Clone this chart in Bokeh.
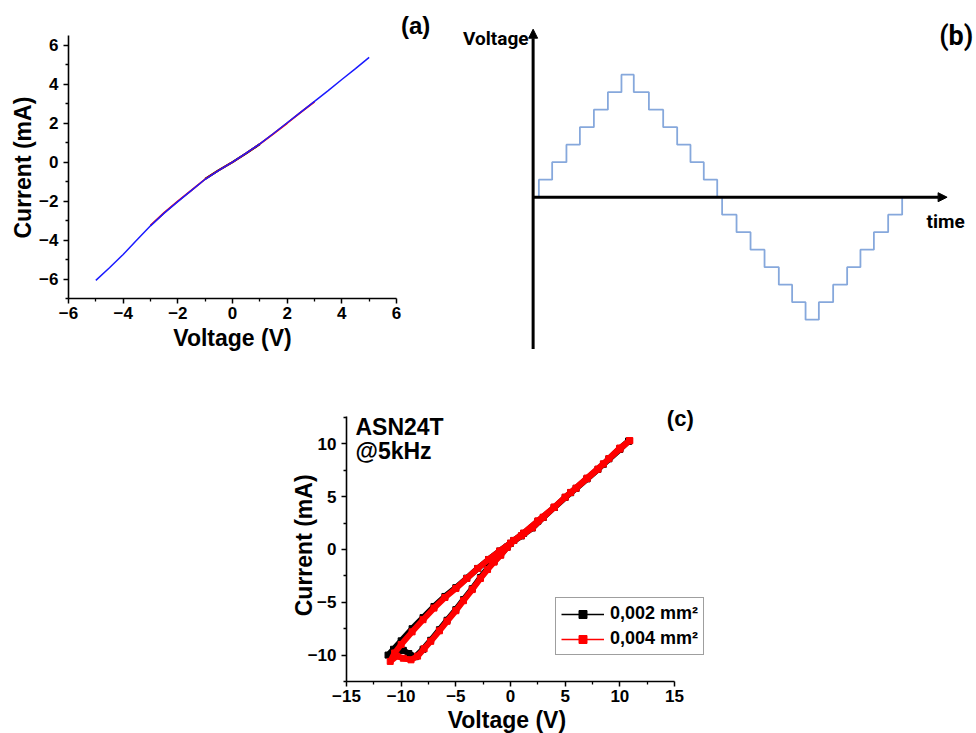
import math
import numpy as np
from bokeh.plotting import figure
from bokeh.layouts import column, row
from bokeh.models import (Range1d, Label, Arrow, NormalHead, Legend, LegendItem,
                          FixedTicker, LinearAxis)
from bokeh.embed import file_html
from bokeh.resources import INLINE

FONT = "Liberation Sans"
SCHEME_FONT = "Roboto"

# ---------------- data: panel (a) ----------------
a_blue_v = [-5.0, -4.5, -4.0, -3.5, -3.0, -2.5, -2.0, -1.5, -1.0, -0.5, 0.0,
            0.5, 1.0, 1.5, 2.0, 2.5, 3.0, 3.5, 4.0, 4.5, 5.0]
a_blue_i = [-6.07, -5.42, -4.74, -4.0, -3.27, -2.62, -2.03, -1.45, -0.88, -0.42, 0.0,
            0.46, 0.94, 1.47, 2.02, 2.57, 3.12, 3.67, 4.24, 4.8, 5.38]
a_red_v = [-3.0, -2.5, -2.0, -1.5, -1.0, -0.5, 0.0, 0.5, 1.0, 1.5, 2.0, 2.5, 3.0]
a_red_i = [-3.25, -2.6, -2.0, -1.44, -0.87, -0.42, 0.0, 0.46, 0.93, 1.46, 2.0, 2.56, 3.1]
a_blk_v = [-1.0, -0.5, 0.0, 0.5, 1.0]
a_blk_i = [-0.86, -0.41, 0.0, 0.45, 0.92]
a_xticks = [-6, -4, -2, 0, 2, 4, 6]
a_xlabels = ["\u22126", "\u22124", "\u22122", "0", "2", "4", "6"]
a_yticks = [-6, -4, -2, 0, 2, 4, 6]
a_ylabels = ["\u22126", "\u22124", "\u22122", "0", "2", "4", "6"]

# ---------------- data: panel (b) ----------------
b_t_edges = [0.0, 0.24, 1.19, 2.21, 3.17, 4.17, 5.17, 6.14, 7.02, 8.1, 9.12, 10.12,
             11.07, 12.02, 12.98, 13.33, 14.36, 15.36, 16.36, 17.38, 18.33, 19.29,
             20.24, 21.26, 22.26, 23.21, 24.17, 25.19, 26.19]
b_levels = [0, 1, 2, 3, 4, 5, 6, 7, 6, 5, 4, 3, 2, 1, 0, -1, -2, -3, -4, -5, -6, -7,
            -6, -5, -4, -3, -2, -1, 0]

# ---------------- data: panel (c) ----------------
c_red_v = [10.9, 10.0, 9.0, 8.0, 7.0, 6.0, 5.0, 4.0, 3.0, 2.0, 1.0, 0.0, -1.0, -2.0,
           -3.0, -4.0, -5.0, -6.0, -7.0, -8.0, -9.0, -10.0, -10.6, -11.0, -10.4,
           -9.8, -9.1, -8.5, -7.9, -7.3, -6.5, -5.8, -5.0, -4.3, -3.5, -2.75, -2.1,
           -1.5, -0.9, -0.3, 0.3, 1.2, 2.5, 4.0, 5.5, 7.0, 8.5, 10.0, 10.9]
c_red_i = [10.3, 9.6, 8.6, 7.6, 6.7, 5.8, 4.95, 4.0, 3.05, 2.05, 1.3, 0.6, -0.15, -0.95,
           -1.8, -2.75, -3.7, -4.55, -5.55, -6.65, -7.8, -9.0, -9.8, -10.6, -10.1,
           -10.3, -10.45, -10.1, -9.4, -8.7, -7.7, -6.8, -5.8, -4.85, -3.8, -2.75, -1.9,
           -1.2, -0.55, 0.2, 0.85, 1.55, 2.7, 4.0, 5.4, 6.75, 8.1, 9.5, 10.3]
c_blk_v = [10.8, 10.0, 9.0, 8.0, 7.0, 6.0, 5.0, 4.0, 3.0, 2.0, 1.0, 0.0, -1.0, -2.0,
           -3.0, -4.0, -5.0, -6.0, -7.0, -8.0, -9.0, -10.0, -10.7, -11.2, -10.4,
           -9.8, -9.3, -8.7, -8.0, -7.3, -6.5, -5.8, -5.0, -4.3, -3.5, -2.75, -2.1,
           -1.5, -0.9, -0.3, 0.3, 1.2, 2.5, 4.0, 5.5, 7.0, 8.5, 10.0, 10.8]
c_blk_i = [10.25, 9.55, 8.58, 7.58, 6.68, 5.78, 4.93, 3.98, 3.03, 2.03, 1.28, 0.58, -0.15, -0.95,
           -1.8, -2.72, -3.62, -4.45, -5.4, -6.45, -7.5, -8.65, -9.45, -10.0, -9.75,
           -9.55, -9.85, -10.15, -9.45, -8.6, -7.6, -6.7, -5.7, -4.75, -3.72, -2.65, -1.8,
           -1.12, -0.5, 0.22, 0.85, 1.52, 2.67, 3.97, 5.37, 6.72, 8.07, 9.47, 10.25]
c_xticks = [-15, -10, -5, 0, 5, 10, 15]
c_xlabels = ["\u221215", "\u221210", "\u22125", "0", "5", "10", "15"]
c_yticks = [-10, -5, 0, 5, 10]
c_ylabels = ["\u221210", "\u22125", "0", "5", "10"]
c_series_names = ["0,002 mm\u00b2", "0,004 mm\u00b2"]


def pix_range(p0, p1, v0, v1, lo_px, hi_px):
    """data range covering pixels [lo_px, hi_px] given that pixel p0->v0, p1->v1"""
    s = (v1 - v0) / (p1 - p0)
    return Range1d(v0 + (lo_px - p0) * s, v0 + (hi_px - p0) * s)


def add_axes(p, xb, yb, xticks, xlabels, xminor, yticks, ylabels, yminor):
    xa = LinearAxis(fixed_location=yb[0], bounds=xb,
                    ticker=FixedTicker(ticks=xticks, minor_ticks=xminor),
                    major_label_overrides={float(t): l for t, l in zip(xticks, xlabels)})
    ya = LinearAxis(fixed_location=xb[0], bounds=yb,
                    ticker=FixedTicker(ticks=yticks, minor_ticks=yminor),
                    major_label_overrides={float(t): l for t, l in zip(yticks, ylabels)})
    for ax in (xa, ya):
        ax.axis_line_width = 1.6
        ax.axis_line_color = "black"
        ax.major_tick_out = 5
        ax.major_tick_in = 0
        ax.minor_tick_out = 3
        ax.minor_tick_in = 0
        ax.major_tick_line_width = 1.5
        ax.minor_tick_line_width = 1.3
        ax.major_tick_line_color = "black"
        ax.minor_tick_line_color = "black"
        ax.major_label_text_font = FONT
        ax.major_label_text_font_style = "bold"
        ax.major_label_text_font_size = "17px"
        ax.major_label_text_color = "black"
    xa.major_label_standoff = 3
    ya.major_label_standoff = 5
    p.add_layout(xa, "below")
    p.add_layout(ya, "left")


def txt(p, x, y, s, size, align="center", angle=0.0, font=FONT):
    p.add_layout(Label(x=x, y=y, text=s, text_align=align, text_baseline="middle",
                       angle=angle, text_font=font, text_font_style="bold",
                       text_font_size=size, text_color="black"))


# ---------------- panel (a) ----------------
W_A, H_A = 460, 360
pa = figure(width=W_A, height=H_A,
            x_range=pix_range(68, 396, -6, 6, 0, W_A),
            y_range=pix_range(298, 35, -7, 6.5, H_A, 0),
            x_axis_location=None, y_axis_location=None,
            toolbar_location=None, output_backend="svg", min_border=0)
pa.grid.visible = False
pa.outline_line_color = None
add_axes(pa, (-6, 6), (-7, 6.5), a_xticks, a_xlabels, [-5, -3, -1, 1, 3, 5],
         a_yticks, a_ylabels, [-7, -5, -3, -1, 1, 3, 5])
pa.line(a_blk_v, a_blk_i, line_color="black", line_width=2.2)
pa.line(a_red_v, a_red_i, line_color="red", line_width=1.8)
pa.line(a_blue_v, a_blue_i, line_color="#1a1aff", line_width=1.5)
txt(pa, 0.0, -9.05, "Voltage (V)", "23px")
txt(pa, -7.65, -0.28, "Current (mA)", "23px", angle=math.pi / 2)
txt(pa, 6.7, 7.0, "(a)", "24px")

# ---------------- panel (b) ----------------
pb = figure(width=516, height=360, x_range=Range1d(-5.357, 31.5),
            y_range=Range1d(-9.33, 11.24), x_axis_type=None, y_axis_type=None,
            toolbar_location=None, output_backend="svg", min_border=0)
pb.outline_line_color = None
pb.step(b_t_edges, b_levels, mode="after", line_color="#86a8dc", line_width=1.8)
pb.add_layout(Arrow(end=NormalHead(size=9, fill_color="black", line_color="black"),
                    x_start=-0.17, y_start=-8.67, x_end=-0.17, y_end=9.6,
                    line_width=3, line_color="black"))
pb.add_layout(Arrow(end=NormalHead(size=9, fill_color="black", line_color="black"),
                    x_start=-0.17, y_start=0, x_end=29.4, y_end=0,
                    line_width=3, line_color="black"))
txt(pb, -0.5, 9.05, "Voltage", "19px", align="right", font=SCHEME_FONT)
txt(pb, 29.29, -1.37, "time", "19px", font=SCHEME_FONT)
txt(pb, 30.05, 9.2, "(b)", "27px", font=SCHEME_FONT)

# ---------------- panel (c) ----------------
W_C, H_C = 976, 373
Y0_C = 360  # top of this panel in the page
pc = figure(width=W_C, height=H_C,
            x_range=pix_range(346, 674, -15, 15, 0, W_C),
            y_range=pix_range(681 - Y0_C, 443.3 - Y0_C, -12.5, 10, H_C, 0),
            x_axis_location=None, y_axis_location=None,
            toolbar_location=None, output_backend="svg", min_border=0)
pc.grid.visible = False
pc.outline_line_color = None
add_axes(pc, (-15, 15), (-12.5, 12.6), c_xticks, c_xlabels,
         [-12.5, -7.5, -2.5, 2.5, 7.5, 12.5],
         c_yticks, c_ylabels, [-12.5, -7.5, -2.5, 2.5, 7.5, 12.5])
pc.line(c_blk_v, c_blk_i, line_color="black", line_width=6)
pc.scatter(c_blk_v, c_blk_i, marker="square", size=6, color="black")
pc.line(c_red_v, c_red_i, line_color="red", line_width=6)
pc.scatter(c_red_v, c_red_i, marker="square", size=6, color="red")

lb_line = pc.line([np.nan], [np.nan], line_color="black", line_width=1.5)
lb_pt = pc.scatter([np.nan], [np.nan], marker="square", size=4, color="black")
lr_line = pc.line([np.nan], [np.nan], line_color="red", line_width=1.5)
lr_pt = pc.scatter([np.nan], [np.nan], marker="square", size=4, color="red")
legend = Legend(items=[LegendItem(label=c_series_names[0], renderers=[lb_line, lb_pt]),
                       LegendItem(label=c_series_names[1], renderers=[lr_line, lr_pt])],
                location=(555, 733 - 655), glyph_width=43, glyph_height=20,
                label_height=20, spacing=4, padding=5, margin=0, label_standoff=6,
                label_text_font=FONT, label_text_font_style="bold",
                label_text_font_size="18px", label_text_color="black",
                border_line_color="#404040", border_line_width=1.5,
                background_fill_color="white", background_fill_alpha=1.0)
pc.add_layout(legend)

txt(pc, -14.18, 11.62, "ASN24T", "23px", align="left")
txt(pc, -14.18, 9.3, "@5kHz", "23px", align="left")
txt(pc, 15.53, 12.43, "(c)", "22px")
txt(pc, -0.33, -16.1, "Voltage (V)", "23px")
txt(pc, -18.93, 0.39, "Current (mA)", "23px", angle=math.pi / 2)

layout = column(row(pa, pb), pc)
open("out.html", "w").write(file_html(layout, INLINE))
